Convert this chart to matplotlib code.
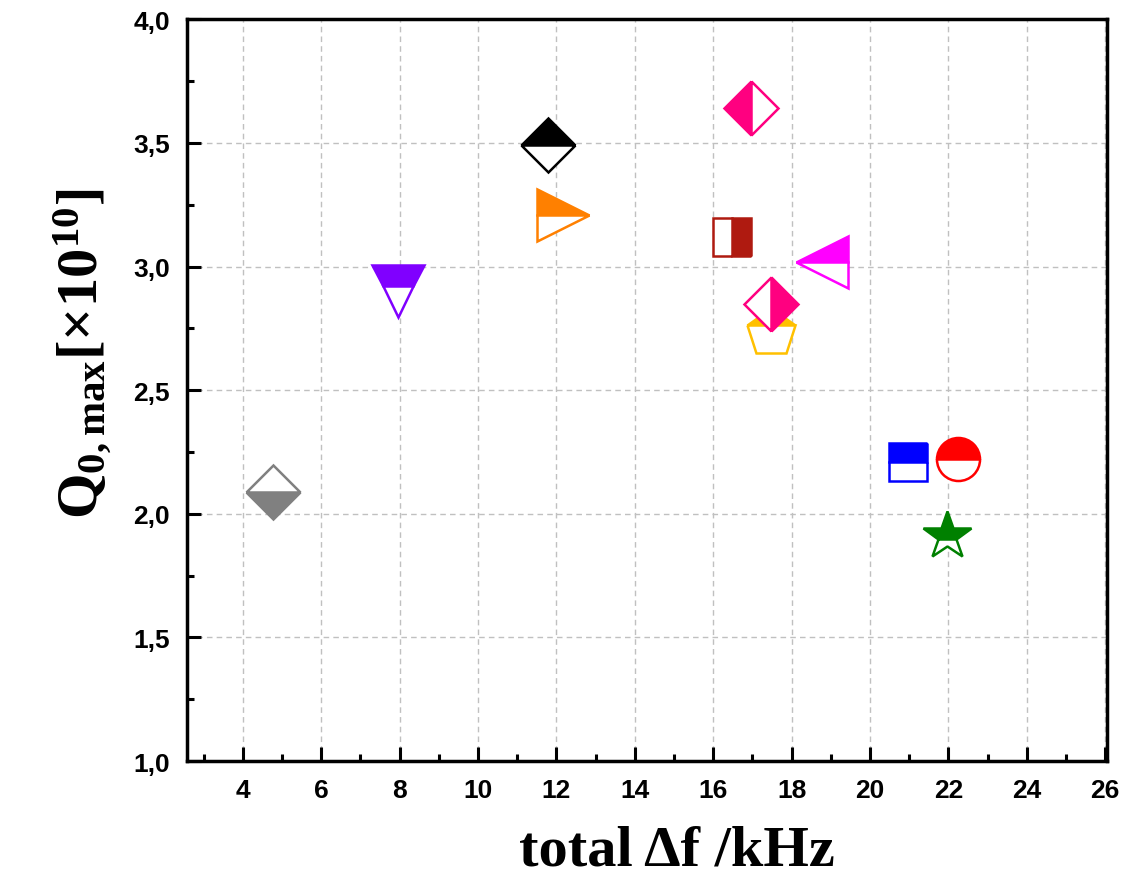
import matplotlib
matplotlib.use("Agg")
import matplotlib.pyplot as plt
from matplotlib.ticker import MultipleLocator, FuncFormatter

plt.rcParams['mathtext.fontset'] = 'custom'
plt.rcParams['mathtext.rm'] = 'Liberation Serif:bold'
plt.rcParams['mathtext.it'] = 'Liberation Serif:bold'
plt.rcParams['mathtext.bf'] = 'Liberation Serif:bold'

# data
delta_f = [4.76, 7.95, 11.78, 12.17, 16.97, 16.47, 18.78, 17.48, 17.48, 20.98, 22.25, 21.97]
q0_max = [2.09, 2.90, 3.49, 3.21, 3.64, 3.12, 3.02, 2.73, 2.85, 2.21, 2.22, 1.91]
colors = ["#808080", "#8000FF", "#000000", "#FF8000", "#FF0080", "#AF1A10",
          "#FF00FF", "#FFC000", "#FF0080", "#0000FF", "#FF0000", "#008000"]
markers = ["D", "v", "D", ">", "D", "s", "<", "p", "D", "s", "o", "*"]
fills = ["bottom", "top", "top", "top", "left", "right", "top", "top", "right", "top", "top", "top"]
sizes = [27, 37, 27, 37, 27, 27, 37, 36, 27, 27, 31, 36]

fig = plt.figure(figsize=(11.32, 8.79), dpi=100)
ax = fig.add_axes([0.165, 0.133, 0.813, 0.844])

for x, y, c, m, f, s in zip(delta_f, q0_max, colors, markers, fills, sizes):
    ax.plot(x, y, linestyle="none", marker=m, markersize=s, color=c,
            markeredgecolor=c, markerfacecolor=c, markerfacecoloralt="white",
            fillstyle=f, markeredgewidth=1.8, zorder=3)

ax.set_xlim(2.57, 26.05)
ax.set_ylim(1.0, 4.0)
ax.xaxis.set_major_locator(MultipleLocator(2))
ax.xaxis.set_minor_locator(MultipleLocator(1))
ax.yaxis.set_major_locator(MultipleLocator(0.5))
ax.yaxis.set_minor_locator(MultipleLocator(0.25))
ax.yaxis.set_major_formatter(FuncFormatter(lambda v, p: f"{v:.1f}".replace(".", ",")))
ax.xaxis.set_major_formatter(FuncFormatter(lambda v, p: f"{v:.0f}"))

ax.grid(True, which="major", linestyle=(0, (4, 3)), color="#C0C0C0", linewidth=1.0, zorder=0)
ax.tick_params(which="both", direction="in", top=False, right=False, width=2.2)
ax.tick_params(which="major", length=10, pad=12)
ax.tick_params(which="minor", length=5)
for sp in ax.spines.values():
    sp.set_linewidth(2.5)

for lbl in ax.get_xticklabels() + ax.get_yticklabels():
    lbl.set_fontfamily("Liberation Sans")
    lbl.set_fontweight("bold")
    lbl.set_fontsize(19)

ax.set_xlabel("total Δf /kHz", fontfamily="Liberation Serif", fontweight="bold", fontsize=42)
ax.set_ylabel(r"$\mathrm{Q_{0,max}[\times10^{10}]}$", fontsize=42)
ax.xaxis.set_label_coords(0.533, -0.085)
ax.yaxis.set_label_coords(-0.08, 0.55)

fig.savefig("out.png", dpi=100)
